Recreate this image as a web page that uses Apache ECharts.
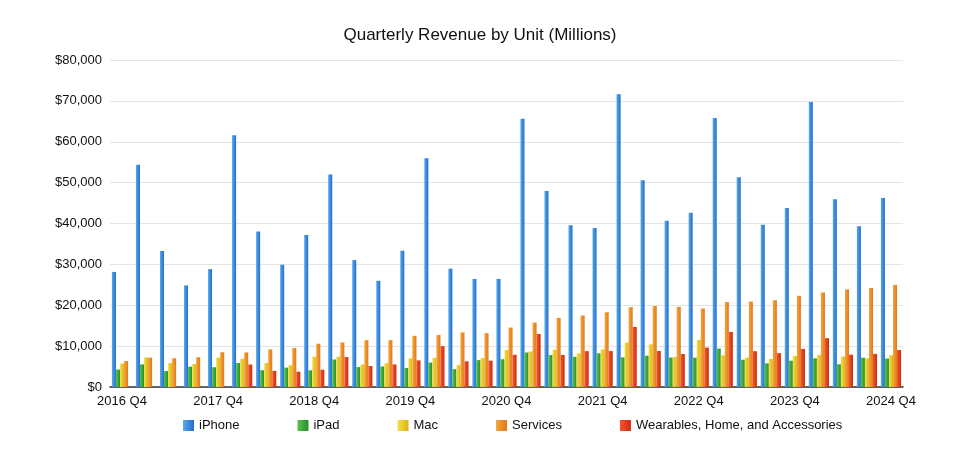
<!DOCTYPE html>
<html>
<head>
<meta charset="utf-8">
<script src="https://cdn.jsdelivr.net/npm/echarts@6/dist/echarts.min.js"></script>
<style>html,body{margin:0;padding:0;background:#fff}#chart{width:960px;height:450px}</style>
</head>
<body>
<div id="chart"></div>
<script>
// 33 quarters, labels only every 4th
var labels = [];
for (var i = 0; i < 33; i++) {
    labels.push((i % 4 === 0) ? (2016 + i / 4) + ' Q4' : '');
}
var iphone = [28160,54380,33250,24850,28850,61580,38030,29910,37190,51980,31050,25990,33360,55960,28960,26420,26440,65600,47940,39570,38870,71630,50570,40670,42630,65780,51330,39670,43810,69700,45960,39300,46220];
var ipad = [4260,5530,3890,4970,4830,5860,4110,4740,4090,6730,4870,5020,4660,5980,4370,6580,6800,8440,7810,7370,8250,7250,7650,7220,7170,9400,6670,5790,6440,7020,5560,7160,6950];
var mac = [5740,7240,5840,5590,7170,6900,5850,5330,7410,7420,5510,5820,6990,7160,5350,7080,9030,8680,9100,8240,9180,10850,10430,7380,11510,7740,7170,6840,7610,7780,7450,7010,7740];
var services = [6330,7170,7040,7270,8500,8470,9190,9550,10590,10880,11450,11460,12510,12720,13350,13160,14550,15760,16900,17490,18280,19520,19820,19600,19190,20770,20910,21210,22310,23120,23870,24210,24970];
var wearables = [null,null,null,null,null,5490,3950,3740,4230,7310,5130,5530,6520,10010,6280,6450,7880,12970,7840,8780,8790,14700,8810,8080,9650,13480,8760,8280,9320,11950,7910,8100,9040];

function grad(top, bottom) {
    return new echarts.graphic.LinearGradient(0, 0, 1, 0, [
        {offset: 0, color: top}, {offset: 1, color: bottom}
    ]);
}
var names = ['iPhone', 'iPad', 'Mac', 'Services', 'Wearables, Home, and Accessories'];
var colors = [['#5aa8ec', '#1f6fc9'], ['#5cc24a', '#24902a'], ['#f5e04a', '#dcb414'], ['#f4a440', '#e07a14'], ['#f05a30', '#d02810']];
var datas = [iphone, ipad, mac, services, wearables];

var series = names.map(function (n, k) {
    return {
        name: n,
        type: 'bar',
        data: datas[k],
        barGap: '0%',
        barCategoryGap: '16%',
        itemStyle: {color: grad(colors[k][0], colors[k][1])}
    };
});

var chart = echarts.init(document.getElementById('chart'));
chart.setOption({
    animation: false,
    textStyle: {fontFamily: 'Liberation Sans, Arial, sans-serif'},
    color: colors.map(function (c) { return c[1]; }),
    title: {
        text: 'Quarterly Revenue by Unit (Millions)',
        left: 'center',
        top: 22,
        textStyle: {fontSize: 17, fontWeight: 'normal', color: '#111'}
    },
    legend: {
        bottom: 13,
        left: 178,
        itemWidth: 11,
        itemHeight: 11,
        itemGap: 58,
        icon: 'rect',
        textStyle: {fontSize: 13, color: '#111'}
    },
    grid: {left: 110, right: 57, top: 60, bottom: 63},
    xAxis: {
        type: 'category',
        data: labels,
        axisTick: {show: false},
        axisLine: {lineStyle: {color: '#333', width: 1.5}},
        axisLabel: {interval: 0, fontSize: 13, color: '#111', margin: 8}
    },
    yAxis: {
        type: 'value',
        min: 0,
        max: 80000,
        interval: 10000,
        axisLabel: {
            fontSize: 13, color: '#111',
            formatter: function (v) { return '$' + v.toLocaleString('en-US'); }
        },
        splitLine: {lineStyle: {color: '#e4e4e4'}}
    },
    series: series
});
</script>
</body>
</html>
